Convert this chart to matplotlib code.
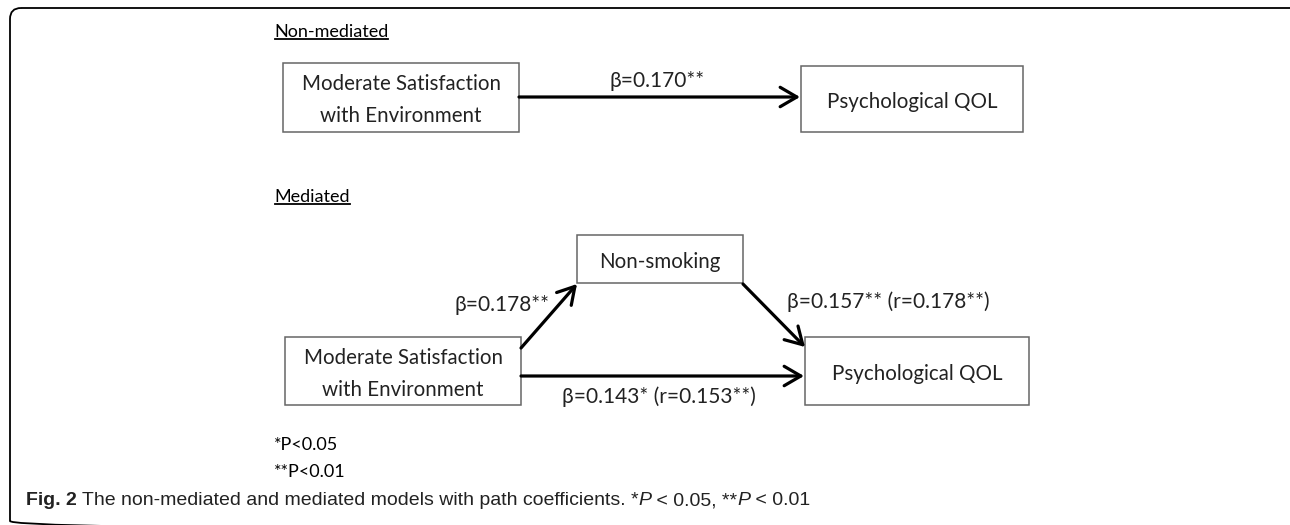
import matplotlib
matplotlib.use("Agg")
import matplotlib.pyplot as plt
from matplotlib.patches import Rectangle, FancyBboxPatch, FancyArrowPatch

# Diagram content
section_titles = ["Non-mediated", "Mediated"]
node_labels = ["Moderate Satisfaction\nwith Environment", "Psychological QOL",
               "Non-smoking",
               "Moderate Satisfaction\nwith Environment", "Psychological QOL"]
path_labels = ["β=0.170**", "β=0.178**", "β=0.157** (r=0.178**)",
               "β=0.143* (r=0.153**)"]
notes = ["*P<0.05", "**P<0.01"]
caption_parts = [("Fig. 2", "bold", "normal"),
                 (" The non-mediated and mediated models with path coefficients. *", "normal", "normal"),
                 ("P", "normal", "italic"),
                 (" < 0.05, **", "normal", "normal"),
                 ("P", "normal", "italic"),
                 (" < 0.01", "normal", "normal")]

# layout in pixel coordinates (x0, y0, x1, y1)
boxes = [(283, 63, 519, 132), (801, 66, 1023, 132), (577, 235, 743, 283),
         (285, 337, 521, 405), (805, 337, 1029, 405)]
arrows = [((519, 97), (800, 97)), ((521, 348), (577, 284)),
          ((743, 284), (805, 347)), ((521, 376), (804, 376))]

FONT = ["Lato", "DejaVu Sans"]
CAP_FONT = ["Liberation Sans Narrow", "Liberation Sans", "DejaVu Sans"]
TXT = "#222222"

fig = plt.figure(figsize=(12.9, 5.25), dpi=100)
ax = fig.add_axes([0, 0, 1, 1])
ax.set_xlim(0, 1290)
ax.set_ylim(525, 0)
ax.axis("off")

# outer frame (runs off the right and bottom edges)
frame = FancyBboxPatch((10, 8), 1300, 524, boxstyle="round,pad=0,rounding_size=11",
                       fc="none", ec="black", lw=1.3)
ax.add_patch(frame)

for (x0, y0, x1, y1), lab in zip(boxes, node_labels):
    ax.add_patch(Rectangle((x0, y0), x1 - x0, y1 - y0, fc="white", ec="#666666", lw=1.1))
    ax.text((x0 + x1) / 2, (y0 + y1) / 2 + 3, lab, ha="center", va="center",
            family=FONT, fontsize=14.8, color=TXT, linespacing=1.75)

for (p0, p1) in arrows:
    ax.add_patch(FancyArrowPatch(p0, p1, arrowstyle="->,head_length=12,head_width=7",
                                 lw=2.3, color="black", shrinkA=0, shrinkB=0,
                                 mutation_scale=1))

# path coefficient labels
ax.text(657, 81, path_labels[0], ha="center", va="center", family=FONT, fontsize=15, color=TXT)
ax.text(549, 305, path_labels[1], ha="right", va="center", family=FONT, fontsize=15, color=TXT)
ax.text(787, 302, path_labels[2], ha="left", va="center", family=FONT, fontsize=15, color=TXT)
ax.text(562, 397, path_labels[3], ha="left", va="center", family=FONT, fontsize=15, color=TXT)

# section titles with underline
titles = []
for t, y in zip(section_titles, [32, 197]):
    titles.append(ax.text(274, y, t, ha="left", va="center", family=FONT, fontsize=13, color="black"))

for t, y in zip(notes, [445, 472]):
    ax.text(274, y, t, ha="left", va="center", family=FONT, fontsize=13, color="black")

# caption built from pieces
prev = None
for txt, w, st in caption_parts:
    if prev is None:
        prev = ax.text(26, 505, txt, ha="left", va="baseline", family=CAP_FONT,
                       fontsize=14, fontweight=w, style=st, color=TXT)
    else:
        prev = ax.annotate(txt, xy=(1, 0), xycoords=prev, ha="left", va="bottom",
                           family=CAP_FONT, fontsize=14, fontweight=w, style=st, color=TXT)

fig.canvas.draw()
r = fig.canvas.get_renderer()
inv = ax.transData.inverted()
for t in titles:
    bb = t.get_window_extent(r)
    (xa, ya), (xb, yb) = inv.transform([(bb.x0, bb.y0), (bb.x1, bb.y1)])
    ax.plot([xa + 1, xb], [ya - 1, ya - 1], color="black", lw=1.3)

fig.savefig("out.png", dpi=100)
